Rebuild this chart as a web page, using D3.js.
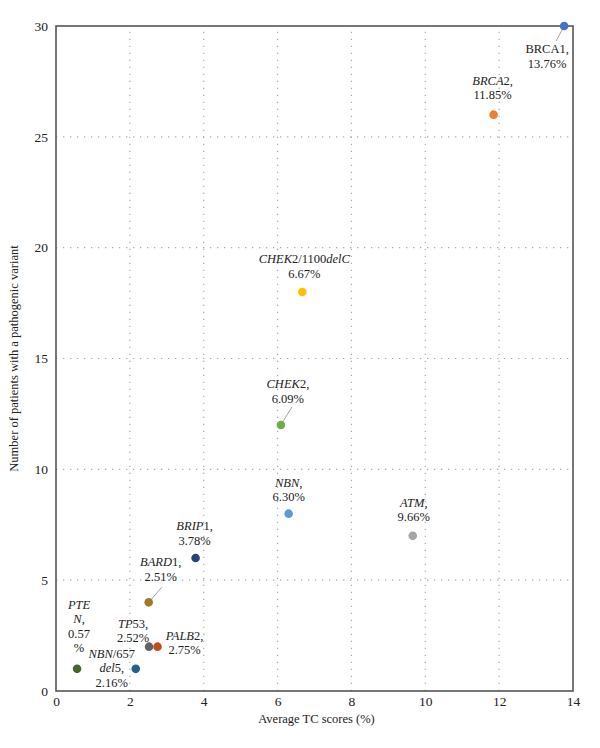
<!DOCTYPE html>
<html>
<head>
<meta charset="utf-8">
<script src="https://cdn.jsdelivr.net/npm/d3@7"></script>
<style>
  body { margin: 0; background: #fff; }
  svg text { font-family: "Liberation Serif", "DejaVu Serif", serif; fill: #222; }
</style>
</head>
<body>
<svg width="600" height="748"></svg>
<script>
// data
var genes = ["BRCA1", "BRCA2", "CHEK2/1100delC", "CHEK2", "NBN", "ATM", "BRIP1", "BARD1", "TP53", "PALB2", "NBN/657del5", "PTEN"];
var tcScores = [13.76, 11.85, 6.67, 6.09, 6.30, 9.66, 3.78, 2.51, 2.52, 2.75, 2.16, 0.57];
var patients = [30, 26, 18, 12, 8, 7, 6, 4, 2, 2, 1, 1];
var xTicks = [0, 2, 4, 6, 8, 10, 12, 14];
var yTicks = [0, 5, 10, 15, 20, 25, 30];

// label text, split in lines; each piece is [text, italic]
var labelLines = [
  [[["BRCA1,", false]], [["13.76%", false]]],
  [[["BRCA", true], ["2,", false]], [["11.85%", false]]],
  [[["CHEK", true], ["2/1100", false], ["delC", true]], [["6.67%", false]]],
  [[["CHEK", true], ["2,", false]], [["6.09%", false]]],
  [[["NBN", true], [",", false]], [["6.30%", false]]],
  [[["ATM", true], [",", false]], [["9.66%", false]]],
  [[["BRIP", true], ["1,", false]], [["3.78%", false]]],
  [[["BARD", true], ["1,", false]], [["2.51%", false]]],
  [[["TP", true], ["53,", false]], [["2.52%", false]]],
  [[["PALB", true], ["2,", false]], [["2.75%", false]]],
  [[["NBN", true], ["/657", false]], [["del", true], ["5,", false]], [["2.16%", false]]],
  [[["PTE", true]], [["N", true], [",", false]], [["0.57", false]], [["%", false]]]
];

// styles and label placement
var colors = ["#4472c4", "#ed7d31", "#ffc000", "#70ad47", "#5b9bd5", "#a5a5a5", "#264478", "#9e7a25", "#636363", "#c0501a", "#255e91", "#43682b"];
var labelOffsets = [[-17, 27], [-1, -30], [2, -29], [7, -37], [0, -27], [1, -29], [-1, -28], [12, -36], [-16, -19], [27, -7], [-24, -11], [2, -60]];
var leaders = { 0: [-8, 15], 3: [11, -18], 7: [13, -15] };

var margin = { left: 56, top: 26, right: 27, bottom: 57 };
var width = 600 - margin.left - margin.right;
var height = 748 - margin.top - margin.bottom;

var svg = d3.select("svg")
  .append("g")
  .attr("transform", "translate(" + margin.left + "," + margin.top + ")");

var scaleX = d3.scaleLinear().domain([0, 14]).range([0, width]);
var scaleY = d3.scaleLinear().domain([0, 30]).range([height, 0]);

// dotted grid
svg.append("g")
  .selectAll("line")
  .data(xTicks.slice(1, -1))
  .enter()
  .append("line")
  .attr("x1", function(d) { return scaleX(d); })
  .attr("x2", function(d) { return scaleX(d); })
  .attr("y1", height)
  .attr("y2", 0)
  .attr("stroke", "#aaa")
  .attr("stroke-width", 1.2)
  .attr("stroke-dasharray", "1.3,5.7");

svg.append("g")
  .selectAll("line")
  .data(yTicks.slice(1, -1))
  .enter()
  .append("line")
  .attr("x1", 0)
  .attr("x2", width)
  .attr("y1", function(d) { return scaleY(d); })
  .attr("y2", function(d) { return scaleY(d); })
  .attr("stroke", "#aaa")
  .attr("stroke-width", 1.2)
  .attr("stroke-dasharray", "1.3,5.7");

// frame
svg.append("rect")
  .attr("x", 0)
  .attr("y", 0)
  .attr("width", width)
  .attr("height", height)
  .attr("fill", "none")
  .attr("stroke", "#555")
  .attr("stroke-width", 1.6);

var xAxis = svg.append("g")
  .attr("transform", "translate(0," + height + ")")
  .call(d3.axisBottom(scaleX).tickValues(xTicks).tickSize(0).tickPadding(5));
var yAxis = svg.append("g")
  .call(d3.axisLeft(scaleY).tickValues(yTicks).tickSize(0).tickPadding(8));
[xAxis, yAxis].forEach(function(a) {
  a.select(".domain").remove();
  a.selectAll("text")
    .attr("font-family", "Liberation Serif, serif")
    .attr("font-size", 13.5)
    .attr("fill", "#222");
});

// axis titles
svg.append("text")
  .attr("x", width / 2 + 2)
  .attr("y", height + 32)
  .attr("text-anchor", "middle")
  .attr("font-size", 12.5)
  .text("Average TC scores (%)");

svg.append("text")
  .attr("transform", "rotate(270)")
  .attr("x", -height / 2)
  .attr("y", -38)
  .attr("text-anchor", "middle")
  .attr("font-size", 12.5)
  .text("Number of patients with a pathogenic variant");

// leader lines
genes.forEach(function(g, i) {
  if (!leaders[i]) return;
  svg.append("line")
    .attr("x1", scaleX(tcScores[i]) + leaders[i][0])
    .attr("y1", scaleY(patients[i]) + leaders[i][1])
    .attr("x2", scaleX(tcScores[i]))
    .attr("y2", scaleY(patients[i]))
    .attr("stroke", "#999")
    .attr("stroke-width", 0.9);
});

// points
svg.selectAll("circle")
  .data(genes)
  .enter()
  .append("circle")
  .attr("cx", function(d, i) { return scaleX(tcScores[i]); })
  .attr("cy", function(d, i) { return scaleY(patients[i]); })
  .attr("r", 4.3)
  .attr("fill", function(d, i) { return colors[i]; });

// labels
genes.forEach(function(g, i) {
  var t = svg.append("text")
    .attr("text-anchor", "middle")
    .attr("font-size", 12.5);
  labelLines[i].forEach(function(line, k) {
    line.forEach(function(piece, j) {
      var s = t.append("tspan").text(piece[0]);
      if (j === 0) {
        s.attr("x", scaleX(tcScores[i]) + labelOffsets[i][0])
         .attr("y", scaleY(patients[i]) + labelOffsets[i][1] + k * 14.5);
      }
      if (piece[1]) s.attr("font-style", "italic");
    });
  });
});
</script>
</body>
</html>
